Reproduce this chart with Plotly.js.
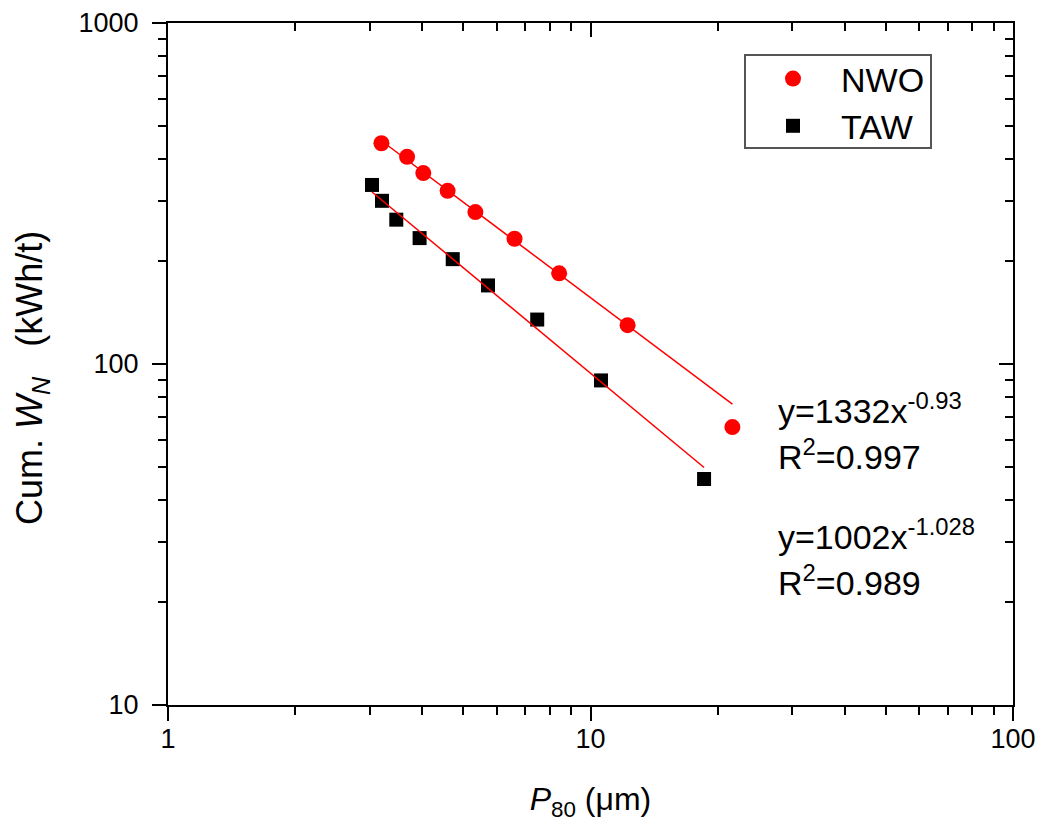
<!DOCTYPE html>
<html>
<head>
<meta charset="utf-8">
<script src="https://cdn.plot.ly/plotly-3.0.1.min.js"></script>
<style>
  html, body { margin: 0; padding: 0; background: #ffffff; }
  #chart { width: 1039px; height: 825px; }
</style>
</head>
<body>
<div id="chart"></div>
<script>
// Cumulative specific energy vs product size (P80), log-log
const nwoP80 = [3.20, 3.68, 4.02, 4.59, 5.34, 6.61, 8.43, 12.24, 21.67];
const nwoEnergy = [444, 405, 363, 322, 279, 233, 184.5, 130, 65.3];
const tawP80 = [3.04, 3.21, 3.47, 3.94, 4.72, 5.72, 7.48, 10.59, 18.57];
const tawEnergy = [335, 301, 265, 234, 203, 170, 135, 89.5, 46.0];

// Power-law fits y = a * x^b
const nwoFit = { a: 1332, b: -0.93, r2: '0.997', exp: '-0.93' };
const tawFit = { a: 1002, b: -1.028, r2: '0.989', exp: '-1.028' };

const xTickVals = [1, 10, 100];
const yTickVals = [10, 100, 1000];

const FONT = 'Liberation Sans, Arial, sans-serif';

function fitLine(xs, fit) {
  const x0 = xs[0], x1 = xs[xs.length - 1];
  return { x: [x0, x1], y: [fit.a * Math.pow(x0, fit.b), fit.a * Math.pow(x1, fit.b)] };
}

function minorVals(lo, hi) {
  const v = [];
  for (let d = lo; d < hi; d *= 10) for (let k = 2; k <= 9; k++) v.push(k * d);
  return v;
}

const nwoLine = fitLine(nwoP80, nwoFit);
const tawLine = fitLine(tawP80, tawFit);

const traces = [
  { x: nwoP80, y: nwoEnergy, name: 'NWO', type: 'scatter', mode: 'markers',
    marker: { symbol: 'circle', size: 16, color: '#ff0000' } },
  { x: tawP80, y: tawEnergy, name: 'TAW', type: 'scatter', mode: 'markers',
    marker: { symbol: 'square', size: 14, color: '#000000' } },
  { x: nwoLine.x, y: nwoLine.y, type: 'scatter', mode: 'lines', showlegend: false,
    line: { color: '#ff0000', width: 1.5 }, hoverinfo: 'skip' },
  { x: tawLine.x, y: tawLine.y, type: 'scatter', mode: 'lines', showlegend: false,
    line: { color: '#ff0000', width: 1.5 }, hoverinfo: 'skip' },
  // carrier for the mirrored top/right frame axes
  { x: [], y: [], xaxis: 'x2', yaxis: 'y2', type: 'scatter', mode: 'markers',
    showlegend: false, hoverinfo: 'skip' }
];

const xMinor = minorVals(1, 100);
const yMinor = minorVals(10, 1000);

const baseAxis = {
  type: 'log', showgrid: false, zeroline: false,
  showline: true, linecolor: '#000', linewidth: 2,
  ticklen: 14, tickwidth: 2, tickcolor: '#000'
};

const eqFont = { family: FONT, size: 34, color: '#000' };

// legend frame in pixel terms of the plot area
const plotL = 168, plotT = 23, plotW = 845, plotH = 682;
const px = v => (v - plotL) / plotW;
const py = v => (plotT + plotH - v) / plotH;

const layout = {
  width: 1039, height: 825,
  margin: { l: plotL, r: 1039 - plotL - plotW, t: plotT, b: 825 - plotT - plotH },
  paper_bgcolor: '#ffffff', plot_bgcolor: '#ffffff',
  font: { family: FONT, color: '#000' },
  showlegend: true,
  legend: {
    x: px(745), y: py(50), xanchor: 'left', yanchor: 'top',
    bgcolor: 'rgba(0,0,0,0)', borderwidth: 0,
    font: { family: FONT, size: 34, color: '#000' },
    itemwidth: 86, tracegroupgap: 0
  },
  shapes: [
    { type: 'rect', xref: 'paper', yref: 'paper', layer: 'above',
      x0: px(745), x1: px(931), y0: py(148), y1: py(55),
      line: { color: '#555', width: 2 }, fillcolor: 'rgba(0,0,0,0)' }
  ],
  xaxis: Object.assign({}, baseAxis, {
    range: [0, 2], ticks: 'outside', tickmode: 'array',
    tickvals: xTickVals, ticktext: xTickVals.map(String),
    tickfont: { family: FONT, size: 27, color: '#000' },
    ticklabelstandoff: -5,
    minor: { tickmode: 'array', tickvals: xMinor, ticks: 'outside', ticklen: 8, tickwidth: 2, tickcolor: '#000', showgrid: false },
    title: { text: '<i>P</i><sub>80</sub> (\u03bcm)', font: { family: FONT, size: 32, color: '#000' }, standoff: 34 }
  }),
  yaxis: Object.assign({}, baseAxis, {
    range: [1, 3], ticks: 'outside', tickmode: 'array',
    tickvals: yTickVals, ticktext: yTickVals.map(String),
    tickfont: { family: FONT, size: 27, color: '#000' },
    ticklabelstandoff: 8,
    minor: { tickmode: 'array', tickvals: yMinor, ticks: 'outside', ticklen: 8, tickwidth: 2, tickcolor: '#000', showgrid: false }
  }),
  xaxis2: Object.assign({}, baseAxis, {
    range: [0, 2], overlaying: 'x', side: 'top', anchor: 'y2',
    ticks: 'inside', tickmode: 'array', tickvals: xTickVals, showticklabels: false,
    minor: { tickmode: 'array', tickvals: xMinor, ticks: 'inside', ticklen: 8, tickwidth: 2, tickcolor: '#000', showgrid: false }
  }),
  yaxis2: Object.assign({}, baseAxis, {
    range: [1, 3], overlaying: 'y', side: 'right', anchor: 'x2',
    ticks: 'inside', tickmode: 'array', tickvals: yTickVals, showticklabels: false,
    minor: { tickmode: 'array', tickvals: yMinor, ticks: 'inside', ticklen: 8, tickwidth: 2, tickcolor: '#000', showgrid: false }
  }),
  annotations: [
    // y-axis title
    { xref: 'paper', yref: 'paper', x: px(32), y: py(378), xanchor: 'center', yanchor: 'middle',
      showarrow: false, textangle: -90,
      text: 'Cum. <i>W</i><sub><i>N</i></sub>\u00a0\u00a0 (kWh/t)', font: { family: FONT, size: 36, color: '#000' } },
    // fit equations
    { xref: 'paper', yref: 'paper', x: 0.72, y: 0.435, xanchor: 'left', yanchor: 'middle', showarrow: false,
      text: 'y=' + nwoFit.a + 'x<sup>' + nwoFit.exp + '</sup>', font: eqFont },
    { xref: 'paper', yref: 'paper', x: 0.72, y: 0.367, xanchor: 'left', yanchor: 'middle', showarrow: false,
      text: 'R<sup>2</sup>=' + nwoFit.r2, font: eqFont },
    { xref: 'paper', yref: 'paper', x: 0.72, y: 0.25, xanchor: 'left', yanchor: 'middle', showarrow: false,
      text: 'y=' + tawFit.a + 'x<sup>' + tawFit.exp + '</sup>', font: eqFont },
    { xref: 'paper', yref: 'paper', x: 0.72, y: 0.183, xanchor: 'left', yanchor: 'middle', showarrow: false,
      text: 'R<sup>2</sup>=' + tawFit.r2, font: eqFont }
  ]
};

Plotly.newPlot('chart', traces, layout, { staticPlot: true, displayModeBar: false });
</script>
</body>
</html>
